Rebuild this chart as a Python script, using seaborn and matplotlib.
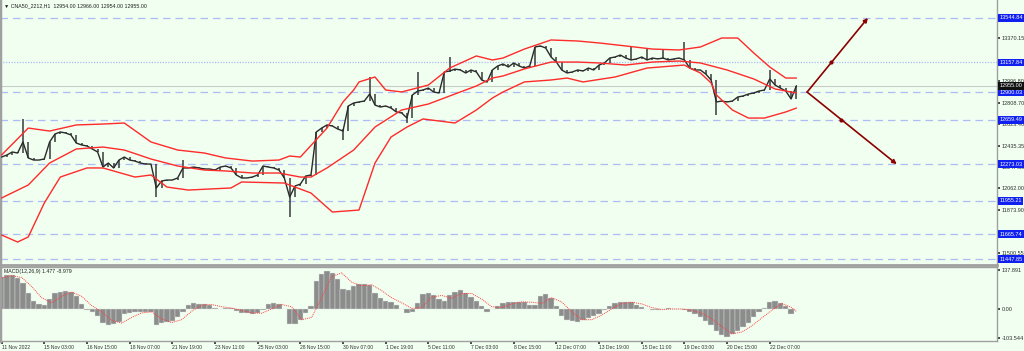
import numpy as np
import pandas as pd
import matplotlib
matplotlib.use("Agg")
import matplotlib.pyplot as plt
import matplotlib.transforms as mtransforms
import seaborn as sns

# ---- chart text
symbol_title = "\u25bc CNA50_2212,H1  12954.00 12966.00 12954.00 12955.00"
macd_title = "MACD(12,26,9) 1.477 -8.979"

tick_labels = ["11 Nov 2022", "15 Nov 03:00", "16 Nov 15:00", "18 Nov 07:00",
               "21 Nov 19:00", "23 Nov 11:00", "25 Nov 03:00", "28 Nov 15:00",
               "30 Nov 07:00", "1 Dec 19:00", "5 Dec 11:00", "7 Dec 03:00",
               "8 Dec 15:00", "12 Dec 07:00", "13 Dec 19:00", "15 Dec 11:00",
               "19 Dec 03:00", "20 Dec 15:00", "22 Dec 07:00"]
tick_bars = list(range(0, 152, 8))

# ---- price data (closes, one per bar slot)
closes = [12335, 12353, 12379, 12370, 12466, 12327, 12309, 12309, 12318, 12466,
          12535, 12553, 12544, 12527, 12457, 12440, 12431, 12405, 12379, 12248,
          12283, 12240, 12309, 12335, 12309, 12300, 12283, 12274, 12274, 12066,
          12127, 12135, 12135, 12153, 12240, 12240, 12248, 12240, 12231, 12231,
          12222, 12248, 12257, 12240, 12179, 12153, 12153, 12161, 12179, 12257,
          12248, 12240, 12222, 12153, 11987, 12083, 12100, 12170, 12179, 12553,
          12587, 12614, 12605, 12579, 12561, 12779, 12805, 12814, 12822, 12883,
          12787, 12770, 12779, 12761, 12727, 12718, 12674, 12874, 12909, 12918,
          12935, 12900, 12892, 13075, 13083, 13100, 13092, 13066, 13092, 13075,
          13005, 12987, 13092, 13127, 13144, 13118, 13153, 13127, 13109, 13127,
          13292, 13301, 13283, 13205, 13161, 13092, 13066, 13075, 13092, 13083,
          13109, 13092, 13135, 13153, 13196, 13205, 13222, 13196, 13179, 13188,
          13205, 13179, 13196, 13188, 13196, 13179, 13188, 13196, 13179, 13109,
          13092, 13092, 13057, 13005, 12814, 12822, 12814, 12822, 12857, 12866,
          12883, 12892, 12909, 12918, 13014, 12961, 12935, 12909, 12840, 12955]
wick_bars = [4, 29, 34, 54, 64, 69, 76, 78, 84, 118, 121, 124, 128, 134, 144]
wick_prices = [12665, 11987, 12309, 11813, 12483, 13031, 12631, 13075, 13205,
               13292, 13283, 13274, 13335, 12700, 13092]

# ---- Bollinger bands
upper_bars = [0, 5, 9, 14, 19, 23, 28, 33, 38, 42, 47, 52, 54, 56, 61, 64, 66, 67,
              70, 72, 75, 80, 84, 89, 92, 94, 98, 103, 108, 112, 117, 122, 127,
              131, 135, 138, 141, 144, 147, 149]
upper_vals = [12353, 12587, 12561, 12614, 12622, 12631, 12466, 12396, 12370, 12327,
              12300, 12309, 12344, 12335, 12587, 12814, 12918, 12988, 13031, 12918,
              12901, 12961, 13109, 13214, 13179, 13196, 13274, 13353, 13344, 13327,
              13301, 13274, 13266, 13292, 13370, 13370, 13240, 13118, 13022, 13022]
middle_bars = [0, 5, 9, 14, 19, 23, 28, 33, 38, 42, 47, 52, 56, 58, 61, 66, 70, 75,
               80, 84, 89, 92, 94, 98, 103, 108, 112, 117, 122, 127, 131, 136, 141,
               145, 149]
middle_vals = [11979, 12092, 12283, 12405, 12422, 12396, 12318, 12257, 12222, 12214,
               12196, 12196, 12161, 12161, 12240, 12396, 12596, 12744, 12796, 12866,
               12953, 13022, 13040, 13101, 13161, 13161, 13153, 13135, 13161, 13170,
               13153, 13092, 13014, 12927, 12892]
lower_bars = [0, 3, 5, 8, 11, 16, 19, 25, 28, 31, 35, 43, 45, 53, 58, 62, 67, 70,
              73, 76, 79, 85, 89, 92, 94, 98, 103, 106, 109, 115, 121, 128, 129,
              131, 133, 134, 137, 140, 143, 147, 149]
lower_vals = [11657, 11596, 11640, 11935, 12161, 12240, 12240, 12161, 12179, 12074,
              12048, 12066, 12118, 12109, 12022, 11857, 11874, 12283, 12509, 12596,
              12666, 12631, 12744, 12848, 12901, 12988, 13005, 13022, 12988, 13031,
              13109, 13135, 13109, 13066, 12979, 12875, 12744, 12674, 12674, 12727,
              12761]

# ---- horizontal levels and price scale
dashed_levels = [13544.84, 12900.03, 12659.49, 12273.03, 11955.21, 11665.74, 11447.85]
dotted_level = 13157.84
last_price = 12955.00
price_ticks = [13370.15, 12996.80, 12808.70, 12623.40, 12435.35, 12247.30,
               12062.00, 11873.90, 11500.55]

# ---- projection arrows (start bar / price, end bar / price)
arrow_start = (151, 12900.03)
arrow_ends = [(162.4, 13544.84), (167.8, 12273.03)]
arrow_marks = [13157.84, 12659.49]

# ---- MACD histogram (one per bar) and signal line
macd_hist = [115, 122, 121, 110, 92, 55, 28, 18, 14, 35, 56, 62, 65, 62, 45, 18, -3,
             -12, -25, -48, -57, -52, -46, -18, -13, -11, -9, -10, -12, -56, -51, -47,
             -42, -30, -12, 15, 20, 18, 16, 14, 5, 1, 5, 4, -6, -15, -16, -18, -14, -4,
             17, 21, 17, 0, -52, -55, -38, -14, 10, 98, 125, 135, 128, 107, 72, 68, 82,
             89, 87, 84, 55, 38, 30, 26, 14, 0, -15, -10, 20, 52, 58, 50, 35, 28, 48,
             60, 67, 55, 42, 30, 10, -10, 0, 12, 20, 24, 26, 26, 26, 15, 15, 45, 52,
             38, 10, -25, -38, -44, -46, -40, -33, -26, -18, -5, 10, 23, 25, 26, 24,
             15, 6, 0, -5, -5, 0, 2, 1, 0, -3, -9, -18, -30, -42, -58, -78, -93, -100,
             -90, -78, -64, -48, -30, -12, 5, 24, 28, 22, 10, -18, 1.5]
signal_vals = [110, 118, 112, 80, 40, 22, 45, 60, 45, 12, -10, -40, -50, -30, -14, -10,
               -35, -48, -38, -8, 14, 16, 8, 3, -5, -14, -15, 0, 16, 8, -38, -30, 40,
               115, 128, 95, 82, 86, 65, 40, 22, 2, 5, 42, 48, 38, 55, 55, 35, 8, 5, 18,
               25, 24, 20, 40, 25, -10, -38, -38, -22, 0, 20, 24, 18, 5, -2, 0, 0, -4,
               -15, -35, -62, -88, -82, -60, -32, -5, 20, 5, -9]
macd_ticks = [137.891, 0.0, -103.544]
macd_tick_labels = ["137.891", "0.00", "-103.544"]

# ---- style
sns.set_theme(style="white")
plt.rcParams['font.family'] = ['Liberation Sans', 'DejaVu Sans']
bg = '#F0FFF0'
frame = '#A0A0A0'
band_red = '#FF2A2A'
level_blue = '#AEBCF4'

fig = plt.figure(figsize=(10.24, 3.51), dpi=100, facecolor=bg)
ax = fig.add_axes([0.0, 1 - 265 / 351, 997 / 1024, 265 / 351])
ax2 = fig.add_axes([0.0, 1 - 341 / 351, 997 / 1024, 74 / 351])
for a in (ax, ax2):
    a.set_facecolor(bg)
    for s in a.spines.values():
        s.set_color(frame)
        s.set_linewidth(1.0)
    a.spines['left'].set_linewidth(2.5)
ax.spines['top'].set_visible(False)
ax.spines['bottom'].set_linewidth(2.0)

bars = np.arange(len(closes))
df = pd.DataFrame({"bar": bars, "close": closes})
df["open"] = df["close"].shift(1).fillna(df["close"].iloc[0])
df["high"] = df[["open", "close"]].max(axis=1)
df["low"] = df[["open", "close"]].min(axis=1)
for b, p in zip(wick_bars, wick_prices):
    if p > df.loc[b, "high"]:
        df.loc[b, "high"] = p
    else:
        df.loc[b, "low"] = p

# levels
for lvl in dashed_levels:
    ax.axhline(lvl, color=level_blue, lw=0.9, ls=(0, (6, 4)), zorder=1)
ax.axhline(dotted_level, color=level_blue, lw=0.9, ls=(0, (1, 1.2)), zorder=1)
ax.axhline(last_price, color='#C8CCC8', lw=0.8, zorder=1)

# candles
ax.vlines(df["bar"], df["low"], df["high"], color='#3A3A3A', lw=1.1, zorder=3)
sns.lineplot(data=df, x="bar", y="close", ax=ax, color='#2A2A2A', lw=1.0, zorder=3)

# bands
for bx, by in [(upper_bars, upper_vals), (middle_bars, middle_vals), (lower_bars, lower_vals)]:
    sns.lineplot(x=bx, y=by, ax=ax, color=band_red, lw=1.0, zorder=4)

# projection arrows
for (ex, ey), mark in zip(arrow_ends, arrow_marks):
    ax.annotate("", xy=(ex, ey), xytext=arrow_start,
                arrowprops=dict(arrowstyle='-|>', color='#8B0000', lw=1.2,
                                mutation_scale=6, shrinkA=0, shrinkB=0), zorder=5)
    mx = np.interp(mark, sorted([arrow_start[1], ey]),
                   [arrow_start[0], ex] if ey > arrow_start[1] else [ex, arrow_start[0]])
    ax.plot(mx, mark, marker='o', ms=2.0, color='#8B0000', zorder=6)

ax.set_xlim(-0.3, 186.6)
ax.set_ylim(11396.2, 13700.6)
ax.set_xticks([])
ax.set_xlabel("")
ax.set_ylabel("")
ax.yaxis.tick_right()
ax.set_yticks(price_ticks)
ax.set_yticklabels([f"{t:.2f}" for t in price_ticks])
ax.tick_params(axis='y', labelsize=4, length=2, pad=1.5, colors='#303030',
               right=True, left=False)

# right side level tags
trans = mtransforms.blended_transform_factory(ax.transAxes, ax.transData)
for lvl in dashed_levels + [dotted_level]:
    ax.text(1.0025, lvl, f"{lvl:.2f}", transform=trans, fontsize=4, color='white',
            va='center', ha='left', clip_on=False, zorder=10,
            bbox=dict(boxstyle='square,pad=0.25', fc='#1020F0', ec='none'))
ax.text(1.0025, last_price, f"{last_price:.2f}", transform=trans, fontsize=4,
        color='white', va='center', ha='left', clip_on=False, zorder=10,
        bbox=dict(boxstyle='square,pad=0.25', fc='#101010', ec='none'))

ax.text(0.004, 0.988, symbol_title, transform=ax.transAxes, fontsize=3.8,
        va='top', ha='left', color='#202020')

# MACD panel
ax2.bar(bars, macd_hist, width=1.0, color='#8C8C8C', edgecolor='#DDE6DD',
        linewidth=0.3, zorder=2)
signal_bars = np.append(np.arange(len(signal_vals) - 1) * 1.875, 149)
sns.lineplot(x=signal_bars, y=signal_vals, ax=ax2, color='#FF4040', lw=0.7,
             ls=(0, (1, 1)), zorder=3)
ax2.set_xlim(-0.3, 186.6)
ax2.set_ylim(-113.6, 149.0)
ax2.yaxis.tick_right()
ax2.set_yticks(macd_ticks)
ax2.set_yticklabels(macd_tick_labels)
ax2.tick_params(axis='y', labelsize=4, length=2, pad=1.5, colors='#303030',
                right=True, left=False)
ax2.set_xticks(tick_bars)
ax2.set_xticklabels(tick_labels, ha='left')
ax2.tick_params(axis='x', labelsize=3.6, length=2, pad=1, colors='#303030',
                bottom=True)
ax2.text(0.004, 0.97, macd_title, transform=ax2.transAxes, fontsize=3.8,
         va='top', ha='left', color='#202020')

fig.savefig("out.png", dpi=100, facecolor=bg)
